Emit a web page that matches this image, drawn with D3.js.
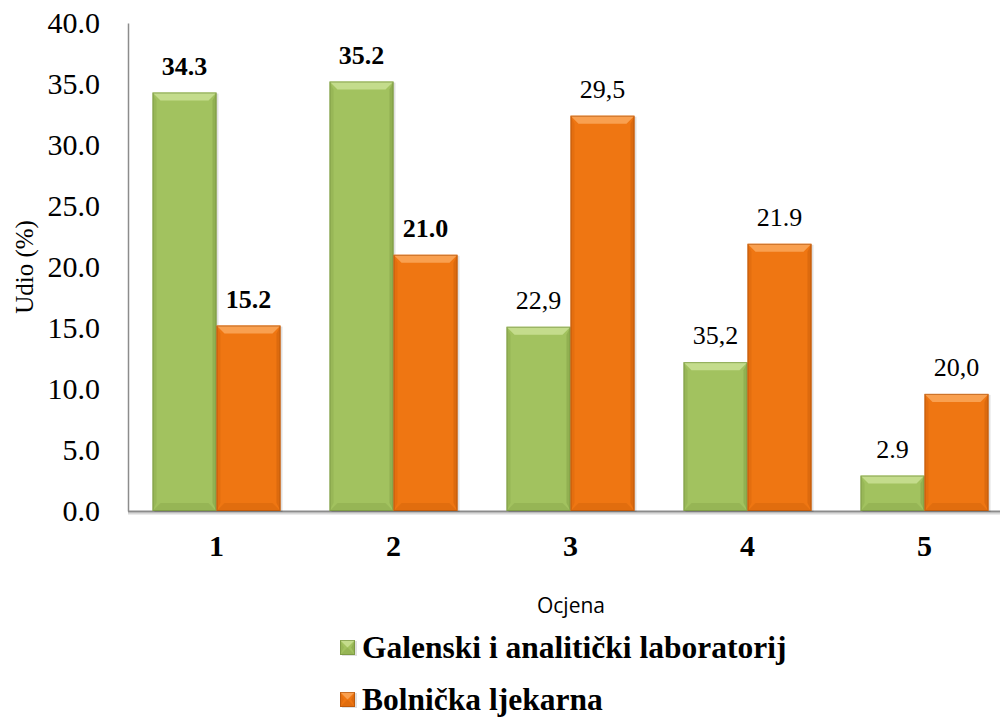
<!DOCTYPE html>
<html>
<head>
<meta charset="utf-8">
<script src="https://cdn.jsdelivr.net/npm/d3@7"></script>
<style>
  body { margin: 0; background: #fff; }
  svg { display: block; }
</style>
</head>
<body>
<div id="chart"></div>
<script>
// values (bar heights) and the printed labels
const categories = ["1", "2", "3", "4", "5"];
const series = ["Galenski i analitički laboratorij", "Bolnička ljekarna"];
const galenski = [34.3, 35.2, 15.1, 12.2, 2.9];
const bolnicka = [15.2, 21.0, 32.4, 21.9, 9.6];
const galenskiLabels = ["34.3", "35.2", "22,9", "35,2", "2.9"];
const bolnickaLabels = ["15.2", "21.0", "29,5", "21.9", "20,0"];
const boldLabels = [true, true, false, false, false];
const yTicks = [0, 5, 10, 15, 20, 25, 30, 35, 40];

const width = 1000, height = 717;
const serif = "'Liberation Serif', 'DejaVu Serif', 'Times New Roman', serif";

const colors = {
  fill: ["#a2c25f", "#ef7612"],
  light: ["#c4dc8c", "#f9a050"],
  dark: ["#809e44", "#c95e0a"],
  edge: ["#6e8a3a", "#a84f0a"]
};

const svg = d3.select("#chart").append("svg")
  .attr("width", width)
  .attr("height", height);

const x = d3.scaleBand()
  .domain(categories)
  .range([128, 1013])
  .paddingInner(0.277)
  .paddingOuter(0.1385);

const xSub = d3.scaleBand()
  .domain([0, 1])
  .range([0, x.bandwidth()]);

const y = d3.scaleLinear()
  .domain([0, 40])
  .range([511, 23]);

// y axis
const yAxis = d3.axisLeft(y)
  .tickValues(yTicks)
  .tickFormat(d3.format(".1f"))
  .tickSize(0)
  .tickPadding(28);

const gy = svg.append("g")
  .attr("transform", "translate(128,0)")
  .call(yAxis);
gy.select(".domain").attr("stroke", "#8c8c8c").attr("stroke-width", 1.5);
gy.selectAll("text")
  .attr("font-family", serif)
  .attr("font-size", 30)
  .attr("fill", "#000");

// x axis
const xAxis = d3.axisBottom(x).tickSize(0).tickPadding(24);
const gx = svg.append("g")
  .attr("transform", "translate(0,511)")
  .call(xAxis);
gx.select(".domain").remove();
gx.append("line")
  .attr("x1", 128).attr("x2", 1000)
  .attr("y1", 2.5).attr("y2", 2.5)
  .attr("stroke", "#d8d8d8").attr("stroke-width", 2);
gx.append("line")
  .attr("x1", 128).attr("x2", 1000)
  .attr("y1", 0.5).attr("y2", 0.5)
  .attr("stroke", "#8c8c8c").attr("stroke-width", 2);
gx.selectAll("text")
  .attr("font-family", serif)
  .attr("font-size", 30)
  .attr("font-weight", "bold")
  .attr("fill", "#000");

// bevelled bar
function bevelBar(g, x0, y0, w, h, s) {
  const b = Math.min(8, h / 2);
  g.append("rect")
    .attr("x", x0 + 2).attr("y", y0 + 1)
    .attr("width", w).attr("height", h)
    .attr("fill", "#000").attr("opacity", 0.12);
  g.append("rect")
    .attr("x", x0).attr("y", y0)
    .attr("width", w).attr("height", h)
    .attr("fill", colors.fill[s]);
  // top bevel
  g.append("polygon")
    .attr("points", [[x0, y0], [x0 + w, y0], [x0 + w - b, y0 + b], [x0 + b, y0 + b]].join(" "))
    .attr("fill", colors.light[s]);
  // bottom bevel
  g.append("polygon")
    .attr("points", [[x0, y0 + h], [x0 + w, y0 + h], [x0 + w - b, y0 + h - b], [x0 + b, y0 + h - b]].join(" "))
    .attr("fill", colors.dark[s]).attr("opacity", 0.35);
  // left and right bevel
  g.append("polygon")
    .attr("points", [[x0, y0], [x0 + b * 0.5, y0 + b], [x0 + b * 0.5, y0 + h - b], [x0, y0 + h]].join(" "))
    .attr("fill", colors.dark[s]).attr("opacity", 0.3);
  g.append("polygon")
    .attr("points", [[x0 + w, y0], [x0 + w - b * 0.5, y0 + b], [x0 + w - b * 0.5, y0 + h - b], [x0 + w, y0 + h]].join(" "))
    .attr("fill", colors.dark[s]).attr("opacity", 0.5);
  g.append("rect")
    .attr("x", x0 + 0.5).attr("y", y0 + 0.5)
    .attr("width", w - 1).attr("height", h - 1)
    .attr("fill", "none")
    .attr("stroke", colors.edge[s]).attr("stroke-width", 1).attr("opacity", 0.6);
}

const values = [galenski, bolnicka];
const labels = [galenskiLabels, bolnickaLabels];

const bars = svg.append("g");
categories.forEach((c, i) => {
  [0, 1].forEach(s => {
    const x0 = x(c) + xSub(s);
    const v = values[s][i];
    bevelBar(bars, x0, y(v), xSub.bandwidth(), y(0) - y(v), s);
  });
});

const lab = svg.append("g");
categories.forEach((c, i) => {
  [0, 1].forEach(s => {
    lab.append("text")
      .attr("x", x(c) + xSub(s) + xSub.bandwidth() / 2)
      .attr("y", y(values[s][i]) - 18)
      .attr("text-anchor", "middle")
      .attr("font-family", serif)
      .attr("font-size", 26)
      .attr("font-weight", boldLabels[i] ? "bold" : "normal")
      .text(labels[s][i]);
  });
});

// axis titles
svg.append("text")
  .attr("transform", "translate(33,267) rotate(-90)")
  .attr("text-anchor", "middle")
  .attr("font-family", serif)
  .attr("font-size", 25)
  .text("Udio (%)");

svg.append("text")
  .attr("x", 571).attr("y", 613)
  .attr("text-anchor", "middle")
  .attr("font-family", "'Open Sans', sans-serif")
  .attr("font-size", 21)
  .text("Ocjena");

// legend
const legend = svg.append("g");
series.forEach((name, s) => {
  const ly = 658 + s * 52;
  bevelBar(legend, 340, ly - 18, 15, 15, s);
  legend.append("text")
    .attr("x", 362).attr("y", ly)
    .attr("font-family", serif)
    .attr("font-size", 31.5)
    .attr("font-weight", "bold")
    .text(name);
});
</script>
</body>
</html>
